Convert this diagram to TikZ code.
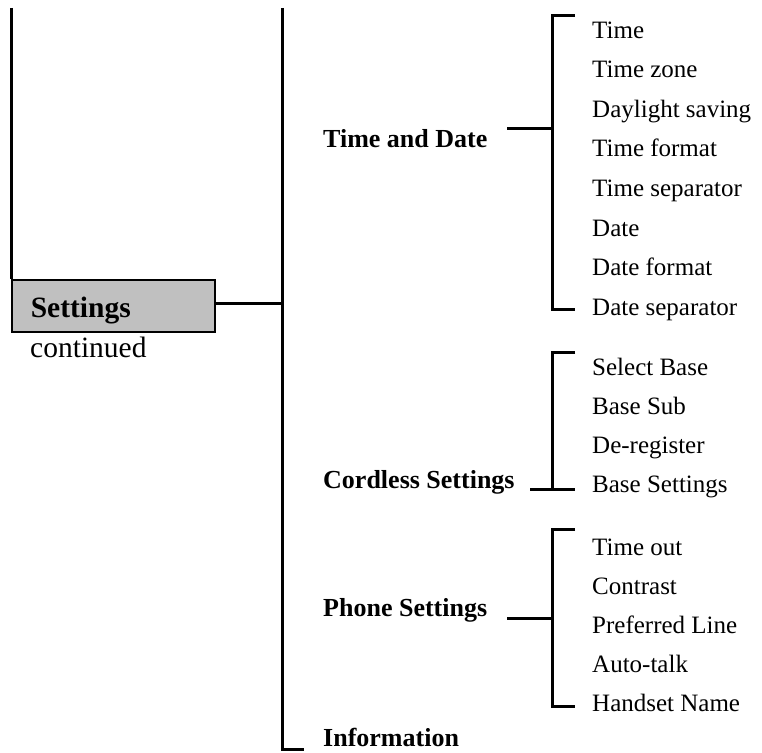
\documentclass[tikz,border=0pt]{standalone}
\usepackage{fontspec}
\setmainfont{Liberation Serif}
\usetikzlibrary{positioning}
\definecolor{boxgray}{RGB}{192,192,192}

\begin{document}
\begin{tikzpicture}[
    x=1pt, y=-1pt,
    link/.style={line width=3pt},
    item/.style={anchor=base west, inner sep=0pt, font=\fontsize{25}{30}\selectfont},
    group/.style={anchor=base west, inner sep=0pt, font=\fontsize{26}{31}\selectfont\bfseries},
    menubox/.style={draw, line width=1.5pt, fill=boxgray, anchor=north west, minimum height=52pt, text width=165pt, inner xsep=19pt, align=left, font=\fontsize{29.5}{35}\selectfont\bfseries}
]
\useasboundingbox (0,0) rectangle (762,752);

% left side
\node[menubox] (settings) at (11,279) {\raisebox{-5pt}[\height][\depth]{Settings}};
\node[item, font=\fontsize{29.5}{35}\selectfont] (cont) at (30,357) {continued};
\coordinate (lefttop) at (11,8);
\draw[link] (lefttop) -- (settings.north west);

% trunk
\coordinate (trunktop) at (282,8);
\coordinate (trunkbot) at (282,749);
\coordinate (info-in) at (304,749);
\draw[link] (trunktop) -- (trunkbot) -- (info-in);
\draw[link] ([yshift=2pt]settings.east) -- ([yshift=2pt]settings.east -| trunktop);

% sub menus
\node[group] (timedate) at (323,147) {Time and Date};
\node[group] (cordless) at (323,488) {Cordless Settings};
\node[group] (phone) at (323,616) {Phone Settings};
\node[group] (info) at (323,746) {Information};

% entries
\foreach \t [count=\i] in {Time, Time zone, Daylight saving, Time format, Time separator, Date, Date format, Date separator}
  \node[item] (td\i) at (592,{38+39.6*(\i-1)}) {\t};
\foreach \t [count=\i] in {Select Base, Base Sub, De-register, Base Settings}
  \node[item] (cl\i) at (592,{375+39.3*(\i-1)}) {\t};
\foreach \t [count=\i] in {Time out, Contrast, Preferred Line, Auto-talk, Handset Name}
  \node[item] (ph\i) at (592,{555+39.2*(\i-1)}) {\t};

% brackets
\coordinate (td-in) at (507,128);  \coordinate (td-fork) at (552,128);
\coordinate (td-top) at (575,16);  \coordinate (td-bot) at (575,309);
\draw[link] (td-in) -- (td-fork);
\draw[link] (td-top) -| (td-fork) |- (td-bot);

\coordinate (cl-in) at (530,489);  \coordinate (cl-fork) at (552,489);
\coordinate (cl-top) at (575,352); \coordinate (cl-bot) at (575,489);
\draw[link] (cl-top) -| (cl-fork);
\draw[link] (cl-in) -- (cl-bot);

\coordinate (ph-in) at (507,618);  \coordinate (ph-fork) at (552,618);
\coordinate (ph-top) at (575,529); \coordinate (ph-bot) at (575,706);
\draw[link] (ph-in) -- (ph-fork);
\draw[link] (ph-top) -| (ph-fork) |- (ph-bot);
\end{tikzpicture}
\end{document}
